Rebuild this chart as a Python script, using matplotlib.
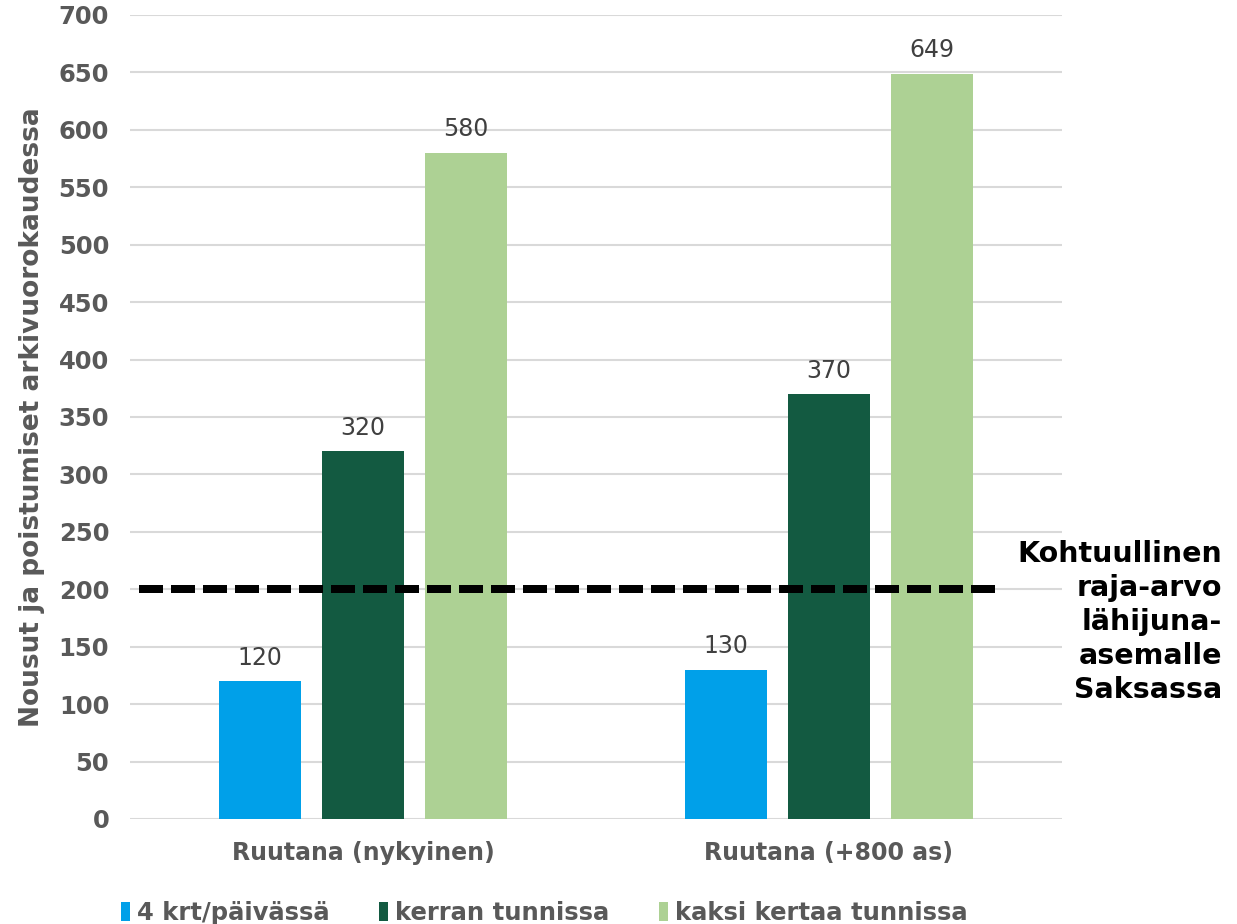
import matplotlib
matplotlib.use("Agg")
import matplotlib.pyplot as plt
import numpy as np

categories = ["Ruutana (nykyinen)", "Ruutana (+800 as)"]
series_names = ["4 krt/päivässä", "kerran tunnissa", "kaksi kertaa tunnissa"]
series_values = [
    [120, 130],
    [320, 370],
    [580, 649],
]
colors = ["#00A0E9", "#135A41", "#ADD194"]
threshold = 200
threshold_label = "Kohtuullinen\nraja-arvo\nlähijuna-\nasemalle\nSaksassa"
ylabel = "Nousut ja poistumiset arkivuorokaudessa"
yticks = list(range(0, 701, 50))

plt.rcParams['font.family'] = ['DejaVu Sans']

fig = plt.figure(figsize=(12.37, 9.24), dpi=100)
ax = fig.add_axes([130/1237, 1-819/924, (1062-130)/1237, (819-15)/924])

x = np.arange(len(categories))
offsets = [-0.221, 0.0, 0.221]
width = 0.174
for i, (name, vals) in enumerate(zip(series_names, series_values)):
    ax.bar(x + offsets[i], vals, width, color=colors[i], label=name, zorder=3)
    for xi, v in zip(x + offsets[i], vals):
        ax.text(xi, v + 10, f"{v}", ha="center", va="bottom", fontsize=17,
                color="#404040", zorder=4)

ax.plot([-0.4807, 1.356], [threshold, threshold], color="black", lw=5.76,
        linestyle=(0, (3.0, 1.0)), dash_capstyle="butt", zorder=5)

ax.set_xlim(-0.5, 1.5)
ax.set_ylim(0, 700)
ax.set_yticks(yticks)
ax.set_yticklabels([str(t) for t in yticks], fontsize=17.5, fontweight="bold", color="#595959")
ax.set_xticks(x)
ax.set_xticklabels(categories, fontsize=17, fontweight="bold", color="#595959")
ax.tick_params(axis="y", length=0, pad=15)
ax.tick_params(axis="x", length=0, pad=16)
ax.grid(axis="y", color="#D9D9D9", lw=1.5, zorder=0)
for s in ["top", "right", "left", "bottom"]:
    ax.spines[s].set_visible(False)
ax.set_ylabel(ylabel, fontsize=19, fontweight="bold", color="#595959", labelpad=10)

fig.text(1222/1237, 1-622/924, threshold_label, ha="right", va="center", fontsize=20.5,
         fontweight="bold", color="black", linespacing=1.27)

leg = fig.legend(loc="center", bbox_to_anchor=(0.44, 1-913/924), ncol=3, frameon=False,
                 prop={"size": 17.5, "weight": "bold"}, handlelength=0.35, handleheight=0.8,
                 handletextpad=0.3, columnspacing=2.05)
for t in leg.get_texts():
    t.set_color("#595959")

fig.savefig("out.png", dpi=100)
